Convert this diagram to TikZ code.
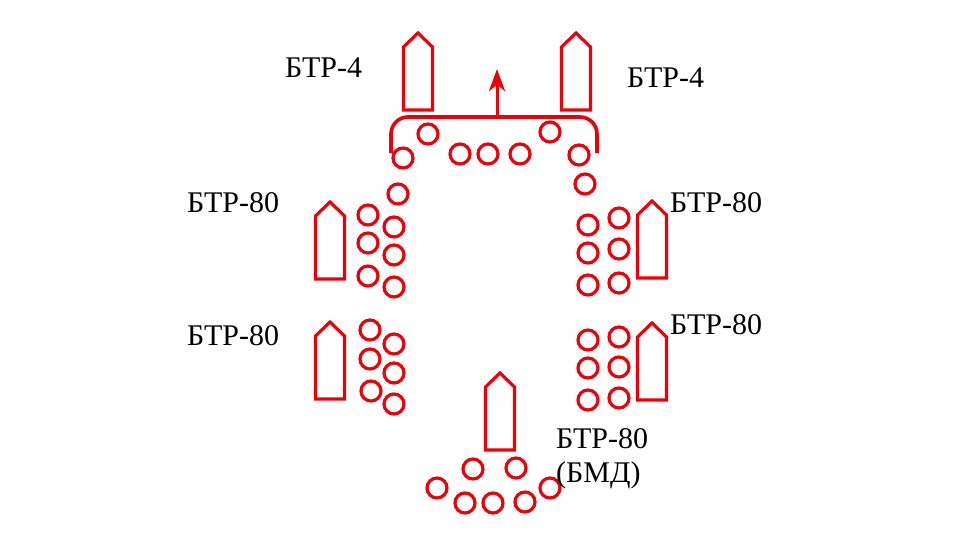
\documentclass[tikz,border=0pt]{standalone}
\usepackage{fontspec}
\setmainfont{Liberation Serif}
\usetikzlibrary{arrows.meta}
\definecolor{tred}{RGB}{238,0,8}
\begin{document}
\begin{tikzpicture}[x=1pt,y=-1pt,
  soldier/.style={circle,draw=tred,line width=3.2pt,minimum size=20pt,inner sep=0pt},
  vehicle/.pic={\draw[tred,line width=3.2pt,line join=miter]
     (-14.5,77) -- (-14.5,14) -- (0,0) -- (14.5,14) -- (14.5,77) -- cycle;},
  lbl/.style={anchor=base west,inner sep=0pt,font=\fontsize{30}{35}\selectfont}]
\useasboundingbox (0,0) rectangle (976,533);
% vehicles
\pic (v1) at (418,33) {vehicle};
\pic (v2) at (576,33) {vehicle};
\pic (v3) at (330,202) {vehicle};
\pic (v4) at (330,322) {vehicle};
\pic (v5) at (652,201) {vehicle};
\pic (v6) at (652,323) {vehicle};
\pic (v7) at (500,373) {vehicle};
% bracket and arrow
\coordinate (bl) at (391,153);
\coordinate (br) at (597,153);
\coordinate (am) at (497,117);
\coordinate (at) at (497,69);
\draw[tred,line width=3.6pt,rounded corners=17pt] (bl) -- (391,117) -- (597,117) -- (br);
\draw[tred,line width=3pt,-{Stealth[length=22pt,width=16pt,inset=6pt]}] (am) -- (at);
% top group
\foreach \n/\x/\y in {a1/428/134,a2/403/158,a3/460/154,a4/488/154,a5/520/154,a6/550/132,a7/579/155,a8/585/184,a9/398/194}
  \node[soldier] (\n) at (\x,\y) {};
% left upper
\foreach \n/\x/\y in {b1/368/215,b2/394/227,b3/368/243,b4/394/255,b5/368/276,b6/394/287}
  \node[soldier] (\n) at (\x,\y) {};
% left lower
\foreach \n/\x/\y in {c1/370/330,c2/394/344,c3/370/359,c4/394/373,c5/371/391,c6/394/404}
  \node[soldier] (\n) at (\x,\y) {};
% right upper
\foreach \n/\x/\y in {d1/588/225,d2/619/218,d3/588/253,d4/619/249,d5/588/285,d6/619/283}
  \node[soldier] (\n) at (\x,\y) {};
% right lower
\foreach \n/\x/\y in {e1/588/340,e2/619/337,e3/588/368,e4/619/367,e5/588/400,e6/619/398}
  \node[soldier] (\n) at (\x,\y) {};
% bottom
\foreach \n/\x/\y in {f1/473/469,f2/516/468,f3/437/488,f4/465/503,f5/493/503,f6/525/502,f7/550/488}
  \node[soldier] (\n) at (\x,\y) {};
% labels
\node[lbl] (t1) at (285,77) {БТР-4};
\node[lbl] (t2) at (627,87) {БТР-4};
\node[lbl] (t3) at (187,212) {БТР-80};
\node[lbl] (t4) at (670,212) {БТР-80};
\node[lbl] (t5) at (187,345) {БТР-80};
\node[lbl] (t6) at (670,334) {БТР-80};
\node[lbl] (t7) at (556,448) {БТР-80};
\node[lbl] (t8) at (556,482) {(БМД)};
\end{tikzpicture}
\end{document}
